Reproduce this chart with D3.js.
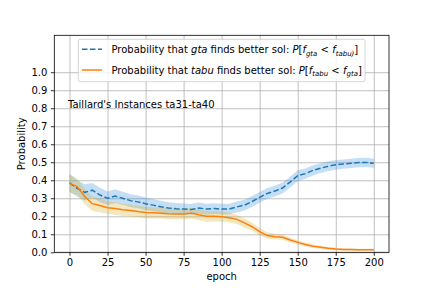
<!DOCTYPE html>
<html>
<head>
<meta charset="utf-8">
<script src="https://cdn.jsdelivr.net/npm/d3@7"></script>
<style>
  html, body { margin: 0; padding: 0; background: #fff; }
  svg { display: block; font-family: "DejaVu Sans", sans-serif; }
</style>
</head>
<body>
<svg id="grafico" width="432" height="288"></svg>
<script>
const epochs = [0, 5, 10, 15, 20, 25, 30, 35, 40, 45, 50, 55, 60, 65, 70, 75, 80, 85, 90, 95, 100,
  105, 110, 115, 120, 125, 130, 135, 140, 145, 150, 155, 160, 165, 170, 175, 180, 185, 190, 195, 200];

const gtaMean = [0.385, 0.355, 0.333, 0.345, 0.318, 0.300, 0.312, 0.300, 0.287, 0.280, 0.270,
  0.262, 0.253, 0.246, 0.242, 0.240, 0.238, 0.246, 0.240, 0.243, 0.240,
  0.240, 0.252, 0.262, 0.282, 0.305, 0.327, 0.340, 0.357, 0.390, 0.425,
  0.437, 0.455, 0.467, 0.478, 0.486, 0.490, 0.494, 0.498, 0.499, 0.494];

const gtaSpread = [0.05, 0.045, 0.045, 0.04, 0.04, 0.038, 0.038, 0.036, 0.035, 0.035, 0.035,
  0.034, 0.033, 0.032, 0.032, 0.031, 0.03, 0.03, 0.03, 0.03, 0.03,
  0.03, 0.03, 0.03, 0.03, 0.03, 0.03, 0.03, 0.03, 0.03, 0.03,
  0.028, 0.028, 0.027, 0.027, 0.027, 0.026, 0.026, 0.026, 0.026, 0.025];

const tabuMean = [0.383, 0.365, 0.310, 0.270, 0.260, 0.248, 0.243, 0.236, 0.232, 0.226, 0.221,
  0.219, 0.217, 0.214, 0.213, 0.212, 0.218, 0.208, 0.200, 0.200, 0.198,
  0.192, 0.183, 0.163, 0.142, 0.115, 0.093, 0.087, 0.083, 0.068, 0.055,
  0.043, 0.034, 0.028, 0.022, 0.018, 0.016, 0.015, 0.014, 0.014, 0.014];

const tabuSpread = [0.05, 0.045, 0.042, 0.04, 0.038, 0.036, 0.035, 0.034, 0.033, 0.032, 0.032,
  0.031, 0.03, 0.03, 0.03, 0.03, 0.03, 0.03, 0.03, 0.029, 0.028,
  0.027, 0.026, 0.025, 0.022, 0.02, 0.018, 0.016, 0.014, 0.013, 0.012,
  0.011, 0.01, 0.009, 0.008, 0.007, 0.007, 0.006, 0.006, 0.006, 0.006];

const xTicks = [0, 25, 50, 75, 100, 125, 150, 175, 200];
const yTicks = [0, 0.1, 0.2, 0.3, 0.4, 0.5, 0.6, 0.7, 0.8, 0.9, 1.0];

const titulo = "Taillard's Instances ta31-ta40";
const legendaGta = [
  { t: "Probability that " }, { t: "gta", i: true }, { t: " finds better sol: " },
  { t: "P", i: true }, { t: "[" }, { t: "f", i: true }, { t: "gta", i: true, sub: true },
  { t: " < " }, { t: "f", i: true }, { t: "tabu)", i: true, sub: true }, { t: "]" }
];
const legendaTabu = [
  { t: "Probability that " }, { t: "tabu", i: true }, { t: " finds better sol: " },
  { t: "P", i: true }, { t: "[" }, { t: "f", i: true }, { t: "tabu", i: true, sub: true },
  { t: " < " }, { t: "f", i: true }, { t: "gta", i: true, sub: true }, { t: "]" }
];

const W = 432;
const H = 288;
const margin = { top: 35.3, right: 43, bottom: 35.7, left: 54.3 };
const plotW = W - margin.left - margin.right;
const plotH = H - margin.top - margin.bottom;

const dados = epochs.map((e, k) => ({
  e, gta: gtaMean[k], gtaS: gtaSpread[k], tabu: tabuMean[k], tabuS: tabuSpread[k]
}));

const x = d3.scaleLinear().domain([-10, 210]).range([0, plotW]);
const y = d3.scaleLinear().domain([0, 1.205]).range([plotH, 0]);

const svg = d3.select("#grafico");
const g = svg.append("g").attr("transform", `translate(${margin.left},${margin.top})`);

// grade
g.append("g")
  .attr("transform", `translate(0,${plotH})`)
  .call(d3.axisBottom(x).tickValues(xTicks).tickSize(-plotH).tickFormat(""))
  .call((sel) => sel.select(".domain").remove())
  .call((sel) => sel.selectAll("line").attr("stroke", "#b0b0b0").attr("stroke-width", 0.8));

g.append("g")
  .call(d3.axisLeft(y).tickValues(yTicks).tickSize(-plotW).tickFormat(""))
  .call((sel) => sel.select(".domain").remove())
  .call((sel) => sel.selectAll("line").attr("stroke", "#b0b0b0").attr("stroke-width", 0.8));

// faixas
const faixaGta = d3.area().x((d) => x(d.e)).y0((d) => y(d.gta - d.gtaS)).y1((d) => y(d.gta + d.gtaS));
const faixaTabu = d3.area().x((d) => x(d.e)).y0((d) => y(d.tabu - d.tabuS)).y1((d) => y(d.tabu + d.tabuS));

g.append("path").datum(dados).attr("d", faixaGta).attr("fill", "#3a92e0").attr("fill-opacity", 0.3);
g.append("path").datum(dados).attr("d", faixaTabu).attr("fill", "#d4b02a").attr("fill-opacity", 0.3);

const linhaGta = d3.line().x((d) => x(d.e)).y((d) => y(d.gta));
const linhaTabu = d3.line().x((d) => x(d.e)).y((d) => y(d.tabu));

g.append("path").datum(dados).attr("d", linhaGta)
  .attr("fill", "none").attr("stroke", "#1f77b4").attr("stroke-width", 1.5)
  .attr("stroke-dasharray", "5.55,2.4");
g.append("path").datum(dados).attr("d", linhaTabu)
  .attr("fill", "none").attr("stroke", "#ff7f0e").attr("stroke-width", 1.5);

// eixos
g.append("g")
  .attr("transform", `translate(0,${plotH})`)
  .call(d3.axisBottom(x).tickValues(xTicks).tickSize(3.5).tickPadding(3.5).tickFormat(d3.format("d")))
  .call((sel) => sel.select(".domain").remove())
  .call((sel) => sel.selectAll("line").attr("stroke", "#000").attr("stroke-width", 0.8))
  .call((sel) => sel.selectAll("text").attr("fill", "#000").attr("font-size", "10px")
    .attr("font-family", "DejaVu Sans"));

g.append("g")
  .call(d3.axisLeft(y).tickValues(yTicks).tickSize(3.5).tickPadding(3.5).tickFormat(d3.format(".1f")))
  .call((sel) => sel.select(".domain").remove())
  .call((sel) => sel.selectAll("line").attr("stroke", "#000").attr("stroke-width", 0.8))
  .call((sel) => sel.selectAll("text").attr("fill", "#000").attr("font-size", "10px")
    .attr("font-family", "DejaVu Sans"));

g.append("rect").attr("width", plotW).attr("height", plotH)
  .attr("fill", "none").attr("stroke", "#000").attr("stroke-width", 0.8);

// rótulos
svg.append("text").attr("x", margin.left + plotW / 2).attr("y", 280)
  .attr("text-anchor", "middle").attr("font-size", "10px").text("epoch");
svg.append("text").attr("transform", `translate(24.5,${margin.top + plotH / 2}) rotate(-90)`)
  .attr("text-anchor", "middle").attr("font-size", "10px").text("Probability");
svg.append("text").attr("x", 68).attr("y", 107.5).attr("font-size", "10px").text(titulo);

// legenda
const leg = svg.append("g");
leg.append("rect").attr("x", 78.3).attr("y", 39.3).attr("width", 286.7).attr("height", 42.4)
  .attr("rx", 2).attr("fill", "#fff").attr("fill-opacity", 0.8)
  .attr("stroke", "#cccccc").attr("stroke-width", 0.8);

function escreveRotulo(sel, partes) {
  partes.forEach((p, k) => {
    const anterior = k > 0 ? partes[k - 1] : null;
    let dy = 0;
    if (p.sub && !(anterior && anterior.sub)) dy = 2.6;
    if (!p.sub && anterior && anterior.sub) dy = -2.6;
    sel.append("tspan")
      .attr("dy", dy)
      .attr("font-style", p.i ? "italic" : "normal")
      .attr("font-size", p.sub ? "7px" : "10px")
      .text(p.t);
  });
}

[
  { yy: 49.3, cor: "#1f77b4", dash: "5.55,2.4", partes: legendaGta },
  { yy: 70, cor: "#ff7f0e", dash: null, partes: legendaTabu }
].forEach((item) => {
  leg.append("line").attr("x1", 82).attr("x2", 102).attr("y1", item.yy).attr("y2", item.yy)
    .attr("stroke", item.cor).attr("stroke-width", 1.5)
    .attr("stroke-dasharray", item.dash);
  const txt = leg.append("text").attr("x", 111.5).attr("y", item.yy + 3.6)
    .attr("font-size", "10px").attr("fill", "#000");
  escreveRotulo(txt, item.partes);
});
</script>
</body>
</html>
